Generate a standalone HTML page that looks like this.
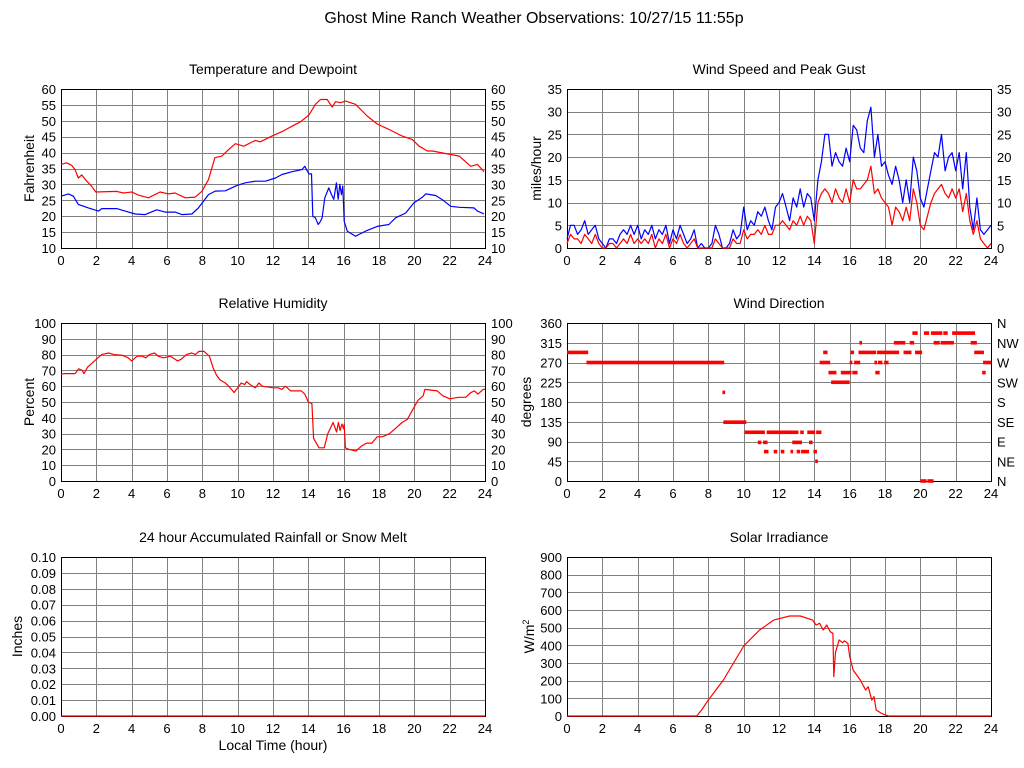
<!DOCTYPE html>
<html><head><meta charset="utf-8"><style>
body{margin:0;background:#fff;}
svg{display:block;font-family:"Liberation Sans",Arial,sans-serif;}
</style></head><body>
<svg id="chart" width="1024" height="768" viewBox="0 0 1024 768" xmlns="http://www.w3.org/2000/svg">
<rect x="0" y="0" width="1024" height="768" fill="#fff"/>
<text x="534" y="23" font-size="16" text-anchor="middle">Ghost Mine Ranch Weather Observations: 10/27/15 11:55p</text>
</svg>
<script>
// ---- data ----
const tempHours=[0,0.32,0.6,0.8,0.98,1.17,1.46,1.74,1.97,3.16,3.54,4.01,4.39,4.95,5.61,6.09,6.46,7.03,7.59,7.97,8.35,8.71,9.11,9.49,9.87,10.34,10.99,11.28,11.94,12.51,13.08,13.55,14.03,14.4,14.69,15.07,15.35,15.54,15.82,16.11,16.67,17.33,17.9,18.56,19.32,19.89,20.27,20.74,21.02,22.06,22.54,23.19,23.57,23.95];
const tempVals=[36.3,36.8,36,34.6,32,33,31,29.4,27.6,27.8,27.3,27.6,26.6,25.8,27.6,27,27.3,25.8,26,27.8,31.5,38.4,38.9,41,42.8,42,43.8,43.4,45.2,46.6,48.3,49.7,51.8,55.2,56.7,56.7,54.3,56,55.7,56.2,55.2,51.5,49,47.3,45.2,44.1,42,40.5,40.5,39.4,38.9,35.7,36.3,34];
const dewHours=[0,0.42,0.7,0.98,1.55,2.12,2.31,3.16,3.63,4.2,4.76,5.42,5.9,6.46,6.84,7.41,7.78,8.35,8.73,9.3,9.96,10.43,11,11.57,12.14,12.51,13.08,13.65,13.8,14.03,14.18,14.25,14.4,14.56,14.69,14.78,14.93,15.16,15.31,15.44,15.59,15.69,15.78,15.88,15.95,16.03,16.2,16.67,17.24,17.9,18.56,18.94,19.51,19.98,20.46,20.65,21.21,21.59,22.06,22.54,23.38,23.57,23.95];
const dewVals=[26.3,27,26.3,23.7,22.6,21.6,22.4,22.4,21.6,20.7,20.5,22,21.3,21.3,20.5,20.7,22.6,26.8,27.9,28,29.7,30.5,31,31,32,33.1,34,34.7,35.7,33.3,33.3,20,19.5,17.4,18.4,19.5,25.8,28.9,26.8,25.3,30.5,25.3,30,26.8,29.5,18.4,15.3,13.7,15.3,16.8,17.4,19.5,21,24.2,26,27,26.5,25.2,23.1,22.8,22.6,21.6,20.7];

const windHours=[];for(let i=0;i<=120;i++)windHours.push(i/5);
const gustVals=[2,5,5,3,4,6,3,4,5,2, 1,0,2,2,1,3,4,3,5,3, 5,2,4,3,5,2,4,3,5,1, 4,2,5,3,1,2,4,0,1,0, 0,1,5,3,0,0,1,4,2,3, 9,4,6,5,8,7,9,6,4,9, 10,12,9,6,11,9,13,9,12,11, 6,15,19,25,25,18,21,19,18,22, 19,27,26,22,21,28,31,20,25,18, 19,16,14,18,15,10,15,10,20,17, 11,9,13,17,21,20,25,17,20,21, 17,21,13,21,9,4,11,4,3,4,5];
const speedVals=[1,3,2,2,1,3,2,1,3,1, 0,0,1,1,0,1,2,1,3,1, 2,1,2,1,3,0,2,1,3,0, 2,1,3,1,0,1,2,0,0,0, 0,0,2,1,0,0,0,2,1,1, 4,2,3,3,4,3,5,3,3,5, 5,6,5,4,6,5,7,5,7,6, 1,10,12,13,12,10,13,11,10,13, 10,15,13,13,14,15,18,12,13,11, 10,9,5,9,8,6,9,6,13,10, 5,4,7,10,12,13,14,12,11,13, 11,13,8,12,6,3,6,2,1,0,1];

const rhHours=[0,0.2,0.8,1.0,1.2,1.3,1.5,2,2.3,2.7,3,3.5,3.8,4,4.3,4.6,4.8,5,5.3,5.5,5.8,6.2,6.6,6.8,7.1,7.4,7.6,7.8,8.1,8.4,8.6,8.8,9,9.3,9.5,9.8,10,10.2,10.4,10.5,10.7,11,11.2,11.4,12,12.3,12.5,12.7,13,13.3,13.6,13.8,14,14.2,14.3,14.5,14.6,14.9,15.1,15.4,15.6,15.7,15.8,15.9,16,16.03,16.1,16.3,16.7,17,17.3,17.6,17.9,18.2,18.6,19,19.3,19.6,19.9,20.2,20.5,20.6,21.3,21.6,22,22.5,22.9,23.2,23.4,23.6,23.9,24];
const rhVals=[67.5,68,68,71,70,68,72,77,80,81,80,79.5,78,76,79,79,78,80,81,79,78,79,76,77,80,81,80,82,82,79,72,67,64,62,60,56,59,62,61,63,61,59,62,60,59,59,58,60,57,57,57,55,50,49,27,23,21,21,30,37,31,37,32,36,33,36,21,20,19,22,24,24,28,28,30,34,37,39,45,51,54,58,57,54,52,53,53,56,57,55,58,58];

// wind direction segments: start hour, end hour, degrees
const dirStart=[0,1.1,8.8,8.85,10.05,11.3,13.2,13.6,14.1,10.8,11.1,12.75,13.7,11.15,11.7,12.1,12.65,13.0,13.25,13.95,14.05,20.0,20.4,14.3,16.0,16.25,17.4,17.6,17.95,23.55,14.8,15.5,16.15,17.45,23.5,14.95,14.5,16.05,16.5,17.55,19.05,19.7,23.05,16.55,18.5,19.4,20.75,21.15,22.85,19.55,20.2,20.6,21.3,21.8];
const dirEnd=[1.2,8.9,8.95,10.15,11.2,13.1,13.4,14.05,14.4,11.0,11.35,13.3,13.9,11.4,11.9,12.3,12.8,13.2,13.7,14.15,14.2,20.35,20.75,14.9,16.15,16.6,17.55,17.85,18.2,24,15.25,16.1,16.45,17.7,23.7,16.0,14.75,16.25,17.5,18.8,19.5,20.1,23.6,16.7,19.15,19.65,21.1,21.9,23.2,19.85,20.5,21.25,21.55,23.1];
const dirVals=[293,270,202,134,111,111,111,111,111,88,88,88,88,67,67,67,67,67,67,67,45,0,0,270,270,270,270,270,270,270,247,247,247,247,247,225,293,293,293,293,293,293,293,315,315,315,315,315,315,337,337,337,337,337];

const solarHours=[0,7.34,7.62,8,8.85,10,10.9,11.7,12.6,13.2,13.9,14.1,14.3,14.5,14.7,14.9,15.05,15.1,15.2,15.4,15.6,15.7,15.9,16,16.2,16.6,16.9,17.05,17.25,17.38,17.5,17.8,18.2,24];
const solarVals=[0,0,34,90,204,396,487,543,566,566,543,515,525,487,515,477,468,223,360,430,415,425,411,336,260,204,147,166,90,110,34,15,0,0];

const rainHours=[0,24];
const rainVals=[0,0];

const hourTicks=[0,2,4,6,8,10,12,14,16,18,20,22,24];
const tempTicks=[10,15,20,25,30,35,40,45,50,55,60];
const windTicks=[0,5,10,15,20,25,30,35];
const rhTicks=[0,10,20,30,40,50,60,70,80,90,100];
const dirTicks=[0,45,90,135,180,225,270,315,360];
const dirLabels=["N","NE","E","SE","S","SW","W","NW","N"];
const rainTicks=[0,0.01,0.02,0.03,0.04,0.05,0.06,0.07,0.08,0.09,0.10];
const solarTicks=[0,100,200,300,400,500,600,700,800,900];

// ---- drawing ----
const NS='http://www.w3.org/2000/svg';
const svg=document.getElementById('chart');
function mk(tag,attrs,parent){const e=document.createElementNS(NS,tag);for(const k in attrs)e.setAttribute(k,attrs[k]);(parent||svg).appendChild(e);return e;}

function panel(o){
  const g=mk('g',{});
  
  
  const L=o.L,R=o.R,T=o.T,B=o.B;
  const xs=h=>L+(h-0)/24*(R-L);
  const ys=v=>B-(v-o.min)/(o.max-o.min)*(B-T);
  const t=mk('text',{x:(L+R)/2,y:T-15,'font-size':14,'text-anchor':'middle'},g);
  t.textContent=o.title;
  
  
  for(const h of hourTicks){
    const x=Math.round(xs(h))+0.5;
    const ln=mk('line',{x1:x,x2:x,y1:T,y2:B,stroke:'#808080','stroke-width':1},g);
    
    
    const lb=mk('text',{x:xs(h),y:B+17,'font-size':13,'text-anchor':'middle'},g);
    lb.textContent=h;
    
    
  }
  o.ticks.forEach((v,i)=>{
    const y=Math.round(ys(v))+0.5;
    const ln=mk('line',{x1:L,x2:R,y1:y,y2:y,stroke:'#808080','stroke-width':1},g);
    
    
    const lb=mk('text',{x:L-5,y:ys(v)+5,'font-size':13,'text-anchor':'end'},g);
    lb.textContent=o.fmt?o.fmt(v):v;
    
    
    if(o.right){
      const rb=mk('text',{x:R+6,y:ys(v)+5,'font-size':13,'text-anchor':'start'},g);
      rb.textContent=o.right[i];
      
      
    }
  });
  const bd=mk('rect',{x:L+0.5,y:T+0.5,width:R-L,height:B-T,fill:'none',stroke:'#000','stroke-width':1},g);
  
  
  const yt=mk('text',{x:0,y:0,'font-size':14,'text-anchor':'middle',transform:`translate(${o.ytx},${(T+B)/2}) rotate(-90)`},g);
  if(o.ytitleHtml){yt.innerHTML=o.ytitleHtml;}else{yt.textContent=o.ytitle;}
  
  
  return {g,xs,ys};
}
function line(p,hs,vs,color,name){
  const d=hs.map((h,i)=>(i?'L':'M')+p.xs(h).toFixed(1)+' '+p.ys(vs[i]).toFixed(1)).join(' ');
  const e=mk('path',{d,fill:'none',stroke:color,'stroke-width':1.2,'stroke-linejoin':'round'},p.g);
  
  
}

const LL=61,LR=485,RL=567,RR=991;
const pT=panel({name:'temperature-panel',title:'Temperature and Dewpoint',L:LL,R:LR,T:89,B:248,min:10,max:60,ticks:tempTicks,right:tempTicks,ytitle:'Fahrenheit',ytx:34});
line(pT,tempHours,tempVals,'#ff0000','temperature-line');
line(pT,dewHours,dewVals,'#0000ff','dewpoint-line');

const pW=panel({name:'wind-speed-panel',title:'Wind Speed and Peak Gust',L:RL,R:RR,T:89,B:248,min:0,max:35,ticks:windTicks,right:windTicks,ytitle:'miles/hour',ytx:541});
line(pW,windHours,gustVals,'#0000ff','peak-gust-line');
line(pW,windHours,speedVals,'#ff0000','wind-speed-line');

const pH=panel({name:'humidity-panel',title:'Relative Humidity',L:LL,R:LR,T:323,B:481,min:0,max:100,ticks:rhTicks,right:rhTicks,ytitle:'Percent',ytx:34});
line(pH,rhHours,rhVals,'#ff0000','humidity-line');

const pD=panel({name:'wind-direction-panel',title:'Wind Direction',L:RL,R:RR,T:323,B:481,min:0,max:360,ticks:dirTicks,right:dirLabels,ytitle:'degrees',ytx:531});
dirVals.forEach((v,i)=>{
  const x1=pD.xs(dirStart[i]),x2=pD.xs(dirEnd[i]);
  const r=mk('rect',{x:x1,y:pD.ys(v)-1.8,width:Math.max(2.5,x2-x1),height:3.6,fill:'#ff0000'},pD.g);
  
  
});

const pR=panel({name:'rainfall-panel',title:'24 hour Accumulated Rainfall or Snow Melt',L:LL,R:LR,T:557,B:716,min:0,max:0.1,ticks:rainTicks,fmt:v=>v.toFixed(2),ytitle:'Inches',ytx:22});
line(pR,rainHours,rainVals,'#ff0000','rainfall-line');
const xt=mk('text',{x:(LL+LR)/2,y:750,'font-size':14,'text-anchor':'middle'});
xt.textContent='Local Time (hour)';



const pS=panel({name:'solar-panel',title:'Solar Irradiance',L:RL,R:RR,T:557,B:716,min:0,max:900,ticks:solarTicks,ytitleHtml:'W/m<tspan font-size="9" dy="-5">2</tspan>',ytx:534});
line(pS,solarHours,solarVals,'#ff0000','solar-line');
</script>
</body></html>
